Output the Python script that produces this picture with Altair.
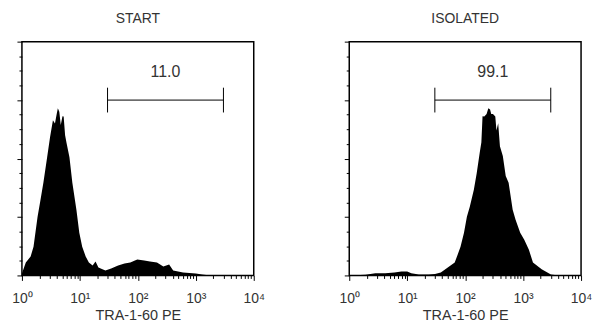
import altair as alt
import pandas as pd

# ---- data (x in log10 units, y in % of scale) ----
start_log = [0.0, 0.067, 0.15, 0.20, 0.27, 0.32, 0.37, 0.435, 0.485, 0.535, 0.57, 0.60, 0.62,
             0.645, 0.67, 0.70, 0.72, 0.745, 0.77, 0.82, 0.87, 0.94, 0.99, 1.04, 1.10, 1.155,
             1.22, 1.27, 1.32, 1.44, 1.54, 1.66, 1.77, 1.87, 1.99, 2.11, 2.21, 2.33, 2.44,
             2.54, 2.61, 2.78, 3.0, 3.11, 3.25, 4.0]
start_count = [0.85, 5.5, 8.1, 12.3, 25.1, 32.3, 39.6, 50.6, 59.1, 66.4, 65.0, 69.0, 71.5,
               70.0, 64.3, 68.1, 68.0, 60.0, 56.6, 50.6, 39.6, 28.1, 18.3, 12.3, 8.1, 5.5,
               4.3, 6.0, 3.4, 2.1, 3.0, 4.3, 5.1, 5.5, 6.8, 6.4, 6.0, 5.5, 3.8,
               4.7, 2.1, 1.3, 0.85, 0.4, 0.0, 0.0]

iso_log = [0.0, 0.28, 0.45, 0.62, 0.78, 0.9, 1.0, 1.07, 1.2, 1.37, 1.48, 1.58, 1.70, 1.82,
           1.87, 1.92, 1.98, 2.03, 2.08, 2.15, 2.2, 2.25, 2.28, 2.30, 2.33, 2.37, 2.40, 2.43,
           2.45, 2.48, 2.52, 2.54, 2.57, 2.60, 2.65, 2.7, 2.75, 2.82, 2.87, 2.95, 3.02, 3.1,
           3.17, 3.32, 3.48, 3.62, 4.0]
iso_count = [0.0, 0.3, 0.9, 0.9, 1.3, 1.7, 1.7, 0.9, 0.4, 0.4, 0.6, 1.3, 3.4, 5.5,
             8.9, 12.3, 18.3, 25.1, 29.4, 36.6, 43.8, 52.3, 57.0, 68.1, 68.0, 69.0, 71.5, 71.0,
             69.0, 69.0, 68.0, 62.0, 65.1, 55.3, 51.1, 42.5, 39.6, 28.1, 23.8, 18.3, 15.3, 11.0,
             5.5, 2.6, 0.4, 0.0, 0.0]

panel_titles = ["START", "ISOLATED"]
gate_labels = ["11.0", "99.1"]
gate_lo = 30
gate_hi = 3000
gate_y = 75
gate_half = 5.3
gate_label_y = 87

x_title = "TRA-1-60 PE"
x_major = [1, 10, 100, 1000, 10000]
x_ticks = [m * 10 ** e for e in range(4) for m in range(1, 10)] + [10000]
y_ticks = [i * 6.25 for i in range(17)]

FONT = "Liberation Sans"
TXT = "#333333"

label_expr = ("indexof([1,10,100,1000,10000], datum.value) >= 0 ? "
              "'10' + ['\u2070','\u00b9','\u00b2','\u00b3','\u2074'][round(log(datum.value)/LN10)] : ''")

X_AXIS = alt.Axis(
    values=x_ticks, labelExpr=label_expr, labelOverlap=False, labelFlush=False,
    tickSize={"condition": {"test": "indexof([1,10,100,1000,10000], datum.value) >= 0", "value": 5}, "value": 3},
    tickColor="black", tickWidth=1, domain=False, grid=False,
    labelFont=FONT, labelFontSize=14, labelColor=TXT, labelPadding=11,
    titleFont=FONT, titleFontSize=14.5, titleFontWeight="normal", titleColor=TXT, titlePadding=3)
Y_AXIS = alt.Axis(
    values=y_ticks, labels=False, domain=False, grid=False,
    tickSize={"condition": {"test": "datum.value % 25 == 0", "value": 5}, "value": 3},
    tickColor="black", tickWidth=1)


def panel(logs, counts, title, gate_label):
    df = pd.DataFrame({"lx": logs, "count": counts})
    df["x"] = 10.0 ** df["lx"]
    xs = alt.Scale(type="log", domain=[1, 10000], nice=False)
    ys = alt.Scale(domain=[0, 100], nice=False)

    def X(f):
        return alt.X(f, scale=xs, axis=X_AXIS, title=x_title)

    def Y(f):
        return alt.Y(f, scale=ys, axis=Y_AXIS, title=None)

    area = alt.Chart(df).mark_area(color="black", interpolate="linear").encode(
        x=X("x:Q"), y=Y("count:Q"))

    gdf = pd.DataFrame({"lo": [gate_lo], "hi": [gate_hi], "y": [gate_y],
                        "y1": [gate_y - gate_half], "y2": [gate_y + gate_half],
                        "mid": [(gate_lo * gate_hi) ** 0.5], "ly": [gate_label_y],
                        "label": [gate_label]})
    hrule = alt.Chart(gdf).mark_rule(color="black", strokeWidth=1).encode(
        x=X("lo:Q"), x2="hi:Q", y=Y("y:Q"))
    lrule = alt.Chart(gdf).mark_rule(color="black", strokeWidth=1).encode(
        x=X("lo:Q"), y=Y("y1:Q"), y2="y2:Q")
    rrule = alt.Chart(gdf).mark_rule(color="black", strokeWidth=1).encode(
        x=X("hi:Q"), y=Y("y1:Q"), y2="y2:Q")
    text = alt.Chart(gdf).mark_text(font=FONT, fontSize=16, color=TXT, baseline="middle").encode(
        x=X("mid:Q"), y=Y("ly:Q"), text="label:N")

    return alt.layer(area, hrule, lrule, rrule, text).properties(
        width=233, height=235,
        title=alt.TitleParams(title, font=FONT, fontSize=14, fontWeight="normal",
                              color=TXT, offset=15))


chart = alt.hconcat(
    panel(start_log, start_count, panel_titles[0], gate_labels[0]),
    panel(iso_log, iso_count, panel_titles[1], gate_labels[1]),
    spacing=96, bounds="flush",
).configure_view(stroke="black", strokeWidth=1.5).properties(
    padding={"left": 2, "top": 2, "right": 0, "bottom": 0})

chart.save("out.html", embed_options={"renderer": "svg", "actions": False})
